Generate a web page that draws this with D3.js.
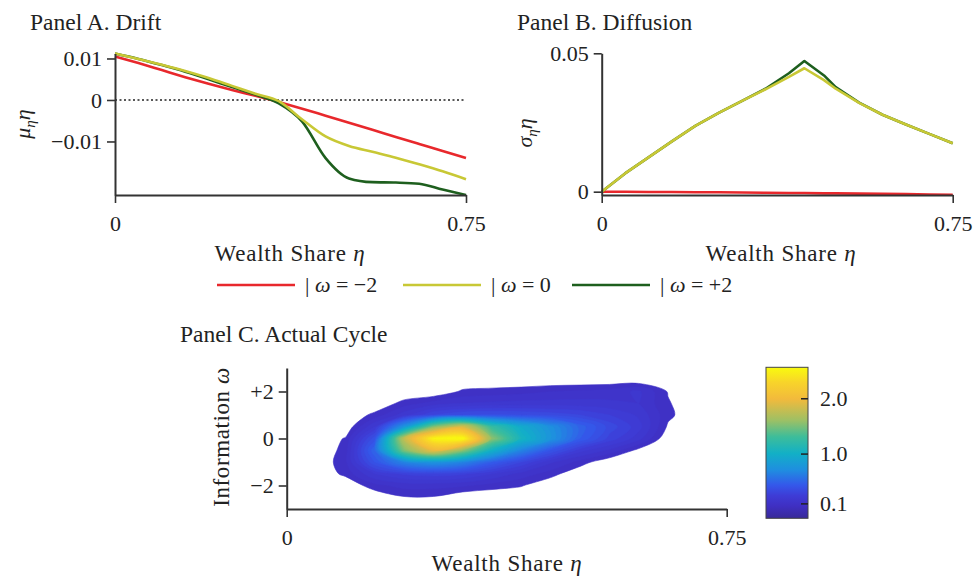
<!DOCTYPE html>
<html><head><meta charset="utf-8">
<script src="https://cdn.jsdelivr.net/npm/d3@7"></script>
<style>
body{margin:0;background:#fff;}
svg text{font-family:"Liberation Serif","Times New Roman",serif;fill:#222;}
</style></head><body><svg id="chart" width="979" height="584"></svg>
<script>
// ---------- data ----------
const etaA = [0,0.05,0.1,0.15,0.2,0.25,0.3,0.35,0.4,0.45,0.5,0.55,0.6,0.65,0.7,0.75];
const driftRed    = [0.0105,0.0089,0.0072,0.0055,0.0039,0.0024,0.0010,-0.0005,-0.0021,-0.0038,-0.0055,-0.0072,-0.0089,-0.0106,-0.0123,-0.0140];
const driftYellow = [0.0112,0.0099,0.0085,0.0070,0.0053,0.0034,0.0015,-0.0003,-0.0047,-0.0088,-0.0111,-0.0125,-0.0139,-0.0155,-0.0172,-0.0191];
const driftGreen  = [0.0112,0.0099,0.0084,0.0068,0.0050,0.0031,0.0013,-0.0008,-0.0052,-0.0140,-0.0189,-0.0198,-0.0199,-0.0202,-0.0216,-0.0229];

const etaB = [0,0.05,0.1,0.15,0.2,0.25,0.3,0.35,0.4,0.433,0.475,0.5,0.55,0.6,0.65,0.7,0.75];
const diffRed    = [0.0000,0.0000,-0.0001,-0.0001,-0.0002,-0.0002,-0.0003,-0.0004,-0.0005,-0.0005,-0.0006,-0.0006,-0.0007,-0.0008,-0.0009,-0.0010,-0.0011];
const diffYellow = [0,0.0066,0.0124,0.0182,0.0238,0.0285,0.0328,0.0370,0.0415,0.0446,0.0403,0.0372,0.0321,0.0278,0.0243,0.0209,0.0175];
const diffGreen  = [0,0.0066,0.0124,0.0182,0.0238,0.0285,0.0328,0.0372,0.0428,0.0472,0.0420,0.0378,0.0322,0.0278,0.0243,0.0209,0.0175];

const legendLabels = ["−2","0","+2"];
const seriesColors = ["#e8282c","#c8c835","#1e5f1e"];

const tickA = [0.01,0,-0.01];
const tickALabels = ["0.01","0","−0.01"];
const tickB = [0.05,0];
const tickBLabels = ["0.05","0"];
const tickEta = [0,0.75];
const tickEtaLabels = ["0","0.75"];
const tickOmega = [2,0,-2];
const tickOmegaLabels = ["+2","0","−2"];

// Panel C: density of (eta, omega); columns = gridEta, rows = gridOmega (top to bottom)
const gridEta = [0,0.05,0.1,0.15,0.2,0.25,0.3,0.35,0.4,0.45,0.5,0.55,0.6,0.65,0.7,0.75];
const gridOmega = [3,2.5,2,1.5,1,0.5,0,-0.5,-1,-1.5,-2,-2.5,-3];
const density = [
 [0,0,0,0,0,0,0,0,0,0,0,0,0,0,0,0],
 [0,0,0,0,0,0,0,0,0,0,0,0,0,0,0,0],
 [0,0,0,0,0,0,0.06,0.07,0.08,0.10,0.11,0.125,0.16,0.045,0,0],
 [0,0,0,0,0.07,0.12,0.15,0.16,0.17,0.17,0.17,0.16,0.15,0.056,0,0],
 [0,0,0,0.066,0.18,0.30,0.35,0.36,0.35,0.33,0.30,0.25,0.19,0.065,0,0],
 [0,0,0,0.20,0.75,1.50,1.85,1.25,0.95,0.72,0.48,0.33,0.22,0.04,0,0],
 [0,0,0.055,0.38,1.75,2.50,2.55,1.55,1.05,0.75,0.45,0.28,0.17,0,0,0],
 [0,0,0.07,0.50,1.50,1.95,1.55,1.00,0.65,0.40,0.22,0.14,0.03,0,0,0],
 [0,0,0.085,0.40,0.65,0.75,0.65,0.45,0.30,0.16,0.08,0,0,0,0,0],
 [0,0,0.065,0.20,0.26,0.28,0.26,0.20,0.13,0.074,0,0,0,0,0,0],
 [0,0,0,0.083,0.12,0.12,0.11,0.076,0.055,0,0,0,0,0,0,0],
 [0,0,0,0,0.045,0.045,0,0,0,0,0,0,0,0,0,0],
 [0,0,0,0,0,0,0,0,0,0,0,0,0,0,0,0]
];
const colorbarDomain = [-0.17, 2.56];
const colorbarTicks = [2.0, 1.0, 0.1];
const parulaStops = ["#382a98","#3f2fc2","#3e3cd6","#3458ea","#1f8ee0","#12b0c6","#3dbd9a","#9ec064","#f2ba3c","#f8d42a","#f9fb0e"];
const parulaPos   = [0,0.08,0.15,0.22,0.32,0.43,0.54,0.65,0.79,0.90,1.0];

// ---------- drawing ----------
const svg = d3.select("#chart");
svg.append("rect").attr("width",979).attr("height",584).attr("fill","#fff");
const axisColor = "#333";

function styleAxis(g){
  g.attr("font-family",null);
  g.select(".domain").attr("stroke",axisColor).attr("stroke-width",2);
  g.selectAll(".tick line").attr("stroke",axisColor).attr("stroke-width",1.6);
  g.selectAll(".tick text").attr("font-size",22).attr("fill","#222");
}
function title(x,y,t){
  svg.append("text").attr("x",x).attr("y",y).attr("font-size",23.5).text(t);
}
function xLabel(cx,y){
  const t = svg.append("text").attr("x",cx).attr("y",y).attr("text-anchor","middle")
    .attr("font-size",23).attr("letter-spacing",0.8);
  t.append("tspan").text("Wealth Share ");
  t.append("tspan").attr("font-style","italic").text("η");
}

// Panel A
const xA = d3.scaleLinear().domain([0,0.75]).range([115,466]);
const yA = d3.scaleLinear().domain([-0.0229,0.0112]).range([195,53.5]);
title(30,30,"Panel A. Drift");
svg.append("line").attr("x1",xA(0)).attr("x2",xA(0.75)).attr("y1",yA(0)).attr("y2",yA(0))
  .attr("stroke","#222").attr("stroke-width",1.6).attr("stroke-dasharray","2,2.5");
const lineA = d3.line().x((d,i)=>xA(etaA[i])).y(d=>yA(d)).curve(d3.curveMonotoneX);
[[driftRed,0],[driftGreen,2],[driftYellow,1]].forEach(([arr,ci])=>{
  svg.append("path").attr("d",lineA(arr)).attr("fill","none")
    .attr("stroke",seriesColors[ci]).attr("stroke-width",2.6);
});
svg.append("g").attr("transform","translate(115,0)")
  .call(d3.axisLeft(yA).tickValues(tickA).tickFormat((d,i)=>tickALabels[i]).tickSize(8).tickPadding(5).tickSizeOuter(0))
  .call(styleAxis);
svg.append("g").attr("transform","translate(0,195)")
  .call(d3.axisBottom(xA).tickValues(tickEta).tickFormat((d,i)=>tickEtaLabels[i]).tickSize(8).tickPadding(12).tickSizeOuter(0))
  .call(styleAxis);
xLabel(290,261);
{
  const t = svg.append("text").attr("transform","translate(30,124) rotate(-90)")
    .attr("text-anchor","middle").attr("font-size",22);
  t.append("tspan").attr("font-style","italic").text("μ");
  t.append("tspan").attr("font-style","italic").attr("font-size",15).attr("dy",5).text("η");
  t.append("tspan").attr("font-style","italic").attr("dy",-5).text("η");
}

// Panel B
const xB = d3.scaleLinear().domain([0,0.75]).range([601.7,952.7]);
const yB = d3.scaleLinear().domain([-0.0012,0.05]).range([195,53.3]);
title(517,30,"Panel B. Diffusion");
const lineB = d3.line().x((d,i)=>xB(etaB[i])).y(d=>yB(d));
[[diffRed,0],[diffGreen,2],[diffYellow,1]].forEach(([arr,ci])=>{
  svg.append("path").attr("d",lineB(arr)).attr("fill","none")
    .attr("stroke",seriesColors[ci]).attr("stroke-width",2.6).attr("stroke-linejoin","round");
});
svg.append("g").attr("transform","translate(601.7,0)")
  .call(d3.axisLeft(yB).tickValues(tickB).tickFormat((d,i)=>tickBLabels[i]).tickSize(8).tickPadding(5).tickSizeOuter(0))
  .call(styleAxis);
svg.append("g").attr("transform","translate(0,195)")
  .call(d3.axisBottom(xB).tickValues(tickEta).tickFormat((d,i)=>tickEtaLabels[i]).tickSize(8).tickPadding(12).tickSizeOuter(0))
  .call(styleAxis);
xLabel(781,261);
{
  const t = svg.append("text").attr("transform","translate(532,133) rotate(-90)")
    .attr("text-anchor","middle").attr("font-size",22);
  t.append("tspan").attr("font-style","italic").text("σ");
  t.append("tspan").attr("font-style","italic").attr("font-size",15).attr("dy",5).text("η");
  t.append("tspan").attr("font-style","italic").attr("dy",-5).text("η");
}

// Legend
const legX = [217,403,572];
legendLabels.forEach((lab,i)=>{
  svg.append("line").attr("x1",legX[i]).attr("x2",legX[i]+78).attr("y1",285).attr("y2",285)
    .attr("stroke",seriesColors[i]).attr("stroke-width",2.6);
  const t = svg.append("text").attr("x",legX[i]+88).attr("y",292).attr("font-size",22);
  t.append("tspan").text("| ");
  t.append("tspan").attr("font-style","italic").text("ω");
  t.append("tspan").text(" = "+lab);
});

// Panel C
title(180,342,"Panel C. Actual Cycle");
const xC = d3.scaleLinear().domain([0,0.75]).range([286.7,726.7]);
const yC = d3.scaleLinear().domain([-3,3]).range([509,368]);
const nx = gridEta.length, ny = gridOmega.length;
const values = density.flat();
const thresholds = d3.range(0.05,2.6,0.05);
const contours = d3.contours().size([nx,ny]).thresholds(thresholds)(values);
const dEta = gridEta[1]-gridEta[0], dOm = gridOmega[0]-gridOmega[1];
const toPx = ([x,y]) => [xC(gridEta[0]+(x-0.5)*dEta), yC(gridOmega[0]-(y-0.5)*dOm)];
const ringLine = d3.line().curve(d3.curveCatmullRomClosed.alpha(0.5));
function contourPath(mp){
  let s = "";
  mp.coordinates.forEach(poly=>poly.forEach(ring=>{
    const pts = ring.slice(0,-1).map(toPx);
    if (pts.length>2) s += ringLine(pts);
  }));
  return s;
}
const tScale = d3.scaleLinear().domain(colorbarDomain).range([0,1]).clamp(true);
const parula = d3.scaleLinear().domain(parulaPos).range(parulaStops).interpolate(d3.interpolateRgb);
svg.append("g").selectAll("path").data(contours).join("path")
  .attr("d",contourPath)
  .attr("fill",d=>parula(tScale(d.value+0.025)))
  .attr("stroke",d=>parula(tScale(d.value+0.025))).attr("stroke-width",0.6);

svg.append("g").attr("transform","translate(286.7,0)")
  .call(d3.axisLeft(yC).tickValues(tickOmega).tickFormat((d,i)=>tickOmegaLabels[i]).tickSize(8).tickPadding(5).tickSizeOuter(0))
  .call(styleAxis);
svg.append("g").attr("transform","translate(0,509)")
  .call(d3.axisBottom(xC).tickValues(tickEta).tickFormat((d,i)=>tickEtaLabels[i]).tickSize(8).tickPadding(12).tickSizeOuter(0))
  .call(styleAxis);
xLabel(507,571);
{
  const t = svg.append("text").attr("transform","translate(229,437) rotate(-90)")
    .attr("text-anchor","middle").attr("font-size",23).attr("letter-spacing",0.6);
  t.append("tspan").text("Information ");
  t.append("tspan").attr("font-style","italic").text("ω");
}

// Colorbar
const cbY = d3.scaleLinear().domain(colorbarDomain).range([518.3,367.3]);
const defs = svg.append("defs");
const grad = defs.append("linearGradient").attr("id","parulaGrad")
  .attr("x1",0).attr("x2",0).attr("y1",1).attr("y2",0);
parulaPos.forEach((p,i)=>grad.append("stop").attr("offset",p).attr("stop-color",parulaStops[i]));
svg.append("rect").attr("x",766).attr("y",cbY(colorbarDomain[1])).attr("width",42)
  .attr("height",cbY(colorbarDomain[0])-cbY(colorbarDomain[1]))
  .attr("fill","url(#parulaGrad)").attr("stroke","#444").attr("stroke-width",1);
const cbAxis = svg.append("g").attr("transform","translate(808,0)")
  .call(d3.axisRight(cbY).tickValues(colorbarTicks).tickFormat(d3.format(".1f")).tickSize(-7).tickPadding(12).tickSizeOuter(0));
cbAxis.attr("font-family",null);
cbAxis.select(".domain").remove();
cbAxis.selectAll(".tick line").attr("stroke","#222").attr("stroke-width",1.5);
cbAxis.selectAll(".tick text").attr("font-size",22).attr("fill","#222");
</script></body></html>
